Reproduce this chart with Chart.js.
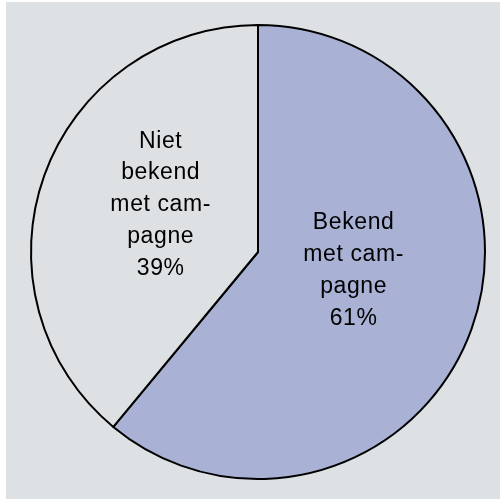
<!DOCTYPE html>
<html>
<head>
<meta charset="utf-8">
<script src="https://cdn.jsdelivr.net/npm/chart.js@4"></script>
<style>
  html, body { margin: 0; padding: 0; background: #ffffff; }
  #box { position: absolute; left: 6px; top: 2px; width: 494px; height: 497px; background: #dee1e4; }
</style>
</head>
<body>
<div id="box"><canvas id="pie"></canvas></div>
<script>
const categories = [
  ["Bekend", "met cam-", "pagne"],
  ["Niet", "bekend", "met cam-", "pagne"]
];
const shares = [61, 39];
const percentLabels = ["61%", "39%"];

// label block centre, as a part of the radius from the pie centre
const labelSpots = [
  { dx: 0.42, dy: 0.11 },
  { dx: -0.43, dy: -0.18 }
];

const sliceText = {
  id: "sliceText",
  afterDatasetsDraw(chart) {
    const ctx = chart.ctx;
    const arcs = chart.getDatasetMeta(0).data;
    ctx.save();
    ctx.font = "23px 'Liberation Sans', Arial, sans-serif";
    ctx.letterSpacing = "0.6px";
    ctx.fillStyle = "#000000";
    ctx.textAlign = "center";
    ctx.textBaseline = "alphabetic";
    arcs.forEach((arc, i) => {
      const { x, y, outerRadius } = arc.getProps(["x", "y", "outerRadius"], true);
      const cx = x + labelSpots[i].dx * outerRadius;
      const cy = y + labelSpots[i].dy * outerRadius;
      const lines = categories[i].concat([percentLabels[i]]);
      const lh = 31.7;
      const first = cy - (lines.length - 1) * lh / 2;
      lines.forEach((t, k) => ctx.fillText(t, cx + 0.3, first + k * lh));
    });
    ctx.restore();
  }
};

const ctx = document.getElementById("pie").getContext("2d");

new Chart(ctx, {
  type: "pie",
  data: {
    labels: categories.map(c => c.join(" ")),
    datasets: [
      {
        data: shares,
        backgroundColor: ["#a9b2d5", "#dee1e4"],
        borderColor: "#000000",
        borderWidth: 2,
      },
    ],
  },
  options: {
    responsive: true,
    maintainAspectRatio: false,
    animation: false,
    layout: { padding: { left: 24, right: 14, top: 22, bottom: 19 } },
    plugins: {
      legend: { display: false },
      tooltip: { enabled: false },
    },
  },
  plugins: [sliceText],
});
</script>
</body>
</html>
